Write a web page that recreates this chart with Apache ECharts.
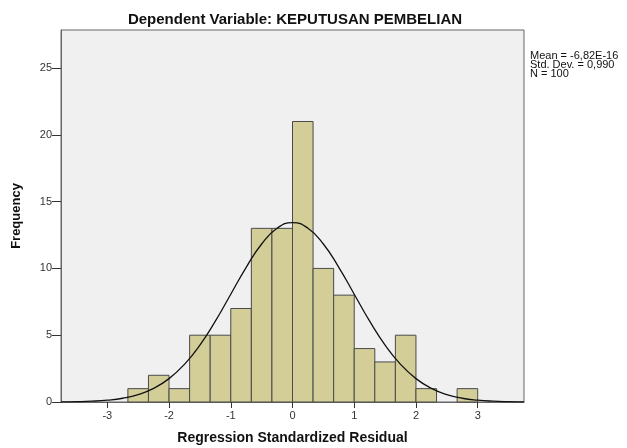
<!DOCTYPE html>
<html>
<head>
<meta charset="utf-8">
<script src="https://cdn.jsdelivr.net/npm/echarts@6/dist/echarts.min.js"></script>
<style>html,body{margin:0;padding:0;background:#fff}#c{width:627px;height:448px}</style>
</head>
<body>
<div id="c"></div>
<script>
// Histogram bins (lower edge, upper edge) in standardized residual units, bin width 1/3
var binStarts = [-8/3,-7/3,-2,-5/3,-4/3,-1,-2/3,-1/3,0,1/3,2/3,1,4/3,5/3,2,7/3,8/3];
var binWidth = 1/3;
var counts = [1,2,1,5,5,7,13,13,21,10,8,4,3,5,1,0,1];
// Normal curve (x, frequency)
var curveX = [-3.75,-3.5,-3.25,-3,-2.75,-2.5,-2.25,-2,-1.75,-1.5,-1.25,-1,-0.75,-0.5,-0.25,0,0.25,0.5,0.75,1,1.25,1.5,1.75,2,2.25,2.5,2.75,3,3.25,3.5,3.75];
var curveY = [0.01,0.026,0.061,0.136,0.28,0.55,1.02,1.75,2.82,4.26,6.05,8.07,10.08,11.83,13.01,13.43,13.01,11.83,10.08,8.07,6.05,4.26,2.82,1.75,1.02,0.55,0.28,0.136,0.061,0.026,0.01];
var xTicks = [-3,-2,-1,0,1,2,3];
var yTicks = [0,5,10,15,20,25];
var statLines = ['Mean = -6,82E-16','Std. Dev. = 0,990','N = 100'];
var titleText = 'Dependent Variable: KEPUTUSAN PEMBELIAN';
var xName = 'Regression Standardized Residual';
var yName = 'Frequency';

var font = 'Liberation Sans, Arial, sans-serif';
var chart = echarts.init(document.getElementById('c'));
var barData = binStarts.map(function(s,i){return [s, s+binWidth, counts[i]];});
var curveData = curveX.map(function(x,i){return [x, curveY[i]];});

chart.setOption({
  animation:false,
  backgroundColor:'#ffffff',
  title:{text:titleText,left:290,textAlign:'center',top:7,textStyle:{fontFamily:font,fontSize:15,fontWeight:'bold',color:'#111'}},
  graphic:[{type:'text',left:530,top:50,style:{text:statLines.join('\n'),font:'11px '+font,fill:'#111',lineHeight:9}}],
  grid:{left:61,top:30,right:103,bottom:46,containLabel:false,outerBoundsMode:'none',show:true,backgroundColor:'#F0F0F0',borderColor:'#666',borderWidth:1},
  xAxis:{type:'value',min:-3.75,max:3.75,
    name:xName,nameLocation:'middle',nameGap:29,
    nameTextStyle:{fontFamily:font,fontSize:14,fontWeight:'bold',color:'#111'},
    axisLine:{show:true,onZero:false,lineStyle:{color:'#666'}},
    axisTick:{show:true,length:6,lineStyle:{color:'#333'},customValues:xTicks},
    axisLabel:{fontFamily:font,fontSize:11,color:'#333',margin:8,customValues:xTicks},
    splitLine:{show:false}},
  yAxis:{type:'value',min:0,max:27.85,
    name:yName,nameLocation:'middle',nameGap:38,nameRotate:90,
    nameTextStyle:{fontFamily:font,fontSize:13,fontWeight:'bold',color:'#111'},
    axisLine:{show:true,onZero:false,lineStyle:{color:'#666'}},
    axisTick:{show:true,length:9,lineStyle:{color:'#333'},customValues:yTicks},
    axisLabel:{fontFamily:font,fontSize:11,color:'#333',margin:9,customValues:yTicks},
    splitLine:{show:false}},
  series:[
    {type:'custom',data:barData,encode:{x:[0,1],y:2},
     renderItem:function(params,api){
       var p0 = api.coord([api.value(0), api.value(2)]);
       var p1 = api.coord([api.value(1), 0]);
       if (api.value(2) <= 0) return null;
       return {type:'rect',shape:{x:p0[0],y:p0[1],width:p1[0]-p0[0],height:p1[1]-p0[1]},
         style:{fill:'#D3CE98',stroke:'#4a4a4a',lineWidth:1}};
     }, z:2},
    {type:'line',data:curveData,smooth:true,showSymbol:false,symbol:'none',
     lineStyle:{color:'#111',width:1.3},z:3}
  ]
});
</script>
</body>
</html>
